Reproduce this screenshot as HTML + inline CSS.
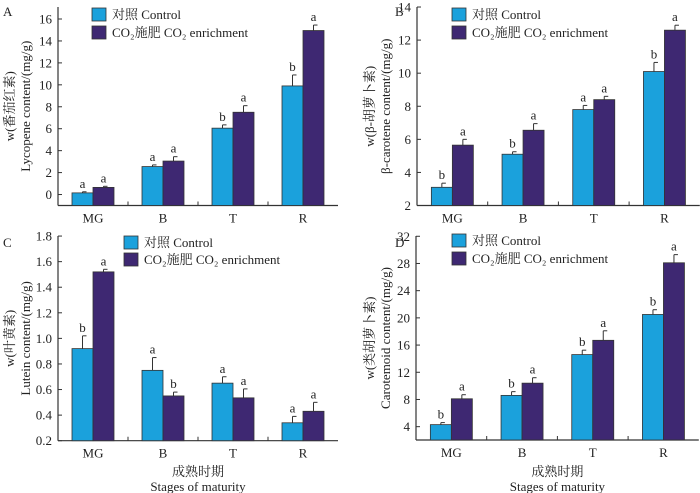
<!DOCTYPE html>
<html><head><meta charset="utf-8">
<style>
body{margin:0;background:#fff;}
svg{display:block;font-family:"Liberation Serif","Noto Serif CJK SC",serif;}
</style></head>
<body>
<svg id="chart" width="700" height="493" viewBox="0 0 700 493" xmlns="http://www.w3.org/2000/svg"></svg>
<script>
const categories = ["MG","B","T","R"];
const aControl = [0.15,2.55,6.05,9.9];
const aControlErr = [0.1,0.15,0.3,1.0];
const aCO2 = [0.65,3.05,7.5,14.95];
const aCO2Err = [0.1,0.4,0.6,0.5];
const aLetters = [["a","a"],["a","a"],["b","a"],["b","a"]];
const aTicks = [0,2,4,6,8,10,12,14,16];

const bControl = [3.1,5.1,7.8,10.1];
const bControlErr = [0.25,0.15,0.25,0.55];
const bCO2 = [5.65,6.55,8.4,12.6];
const bCO2Err = [0.35,0.4,0.2,0.3];
const bLetters = [["b","a"],["b","a"],["a","a"],["b","a"]];
const bTicks = [2,4,6,8,10,12,14];

const cControl = [0.92,0.75,0.65,0.34];
const cControlErr = [0.1,0.1,0.05,0.05];
const cCO2 = [1.52,0.55,0.535,0.43];
const cCO2Err = [0.02,0.03,0.07,0.07];
const cLetters = [["b","a"],["a","b"],["a","a"],["a","a"]];
const cTicks = ["0.2","0.4","0.6","0.8","1.0","1.2","1.4","1.6","1.8"];

const dControl = [4.3,8.6,14.6,20.5];
const dControlErr = [0.3,0.55,0.65,0.7];
const dCO2 = [8.1,10.4,16.7,28.1];
const dCO2Err = [0.6,0.8,1.4,1.2];
const dLetters = [["b","a"],["b","a"],["b","a"],["b","a"]];
const dTicks = [4,8,12,16,20,24,28,32];

const NS="http://www.w3.org/2000/svg";
const svg=document.getElementById('chart');
const C1="#1ba1dc", C2="#3e2872";
function mk(tag,attrs,parent){const e=document.createElementNS(NS,tag);for(const k in attrs)e.setAttribute(k,attrs[k]);(parent||svg).appendChild(e);return e;}
function txt(s,x,y,size,anchor,parent,extra){const t=mk('text',Object.assign({x:x,y:y,'font-size':size,'text-anchor':anchor||'middle',fill:'#222'},extra||{}),parent);t.textContent=s;return t;}

function panel(p){
  const g=mk('g',{});
  
  
  const y=v=>p.y0-(v-p.vmin)*p.scale;
  const xr=p.left+p.catW*4;
  const ax=mk('line',{x1:p.left,y1:p.yTop,x2:p.left,y2:p.y0,stroke:'#333','stroke-width':1.2},g);
  
  
  const xa=mk('line',{x1:p.left,y1:p.y0,x2:xr,y2:p.y0,stroke:'#333','stroke-width':1.2},g);
  
  
  p.ticks.forEach(t=>{
    const v=parseFloat(t), yy=y(v);
    mk('line',{x1:p.left,y1:yy,x2:p.left+4,y2:yy,stroke:'#333'},g);
    const l=txt(String(t),p.left-6,yy+4.5,13,'end',g);
    
    
  });
  for(let i=1;i<4;i++){mk('line',{x1:p.left+p.catW*i,y1:p.y0,x2:p.left+p.catW*i,y2:p.y0-4,stroke:'#333'},g);}
  categories.forEach((c,i)=>{
    const cx=p.left+p.catW*(i+0.5);
    const l=txt(c,cx,p.y0+17,13,'middle',g);
    
    
    [[p.ctl,p.ctlE,C1],[p.co2,p.co2E,C2]].forEach((s,k)=>{
      const bx=cx+(k===0?-21:0), v=s[0][i], e=s[1][i];
      const r=mk('rect',{x:bx,y:y(v),width:21,height:p.y0-y(v),fill:s[2],stroke:'#333','stroke-width':0.8},g);
      
      
      const ex=bx+10.5;
      mk('line',{x1:ex,y1:y(v),x2:ex,y2:y(v+e),stroke:'#333','stroke-width':1},g);
      mk('line',{x1:ex,y1:y(v+e),x2:ex+4,y2:y(v+e),stroke:'#333','stroke-width':1},g);
      const lt=txt(p.letters[i][k],ex,y(v+e)-4,13,'middle',g);
      
      
    });
  });
  [[C1,'对照 Control'],[C2,'CO₂施肥 CO₂ enrichment']].forEach((L,k)=>{
    const ly=p.legY+k*p.legGap;
    const r=mk('rect',{x:p.legX,y:ly-11,width:14,height:13,fill:L[0],stroke:'#333','stroke-width':0.8},g);
    
    
    const t=txt(L[1],p.legX+20,ly,13,'start',g);
    
    
  });
  const pl=txt(p.id,p.labX,p.labY,13,'start',g);
  
  
  const my=(p.yTop+p.y0)/2;
  const t1=txt(p.yl1,p.yl1x,my,13,'middle',g,{transform:`rotate(-90 ${p.yl1x} ${my})`});
  
  
  const t2=txt(p.yl2,p.yl2x,my,13,'middle',g,{transform:`rotate(-90 ${p.yl2x} ${my})`});
  
  
  if(p.xlab){
    const cx=p.left+p.catW*2;
    const a=txt('成熟时期',cx,476,13,'middle',g);
    
    
    const b=txt('Stages of maturity',cx,491,13,'middle',g);
    
    
  }
}
panel({id:'A',left:58,catW:70,y0:205.5,vmin:-1,scale:10.97,yTop:7,ticks:aTicks,ctl:aControl,ctlE:aControlErr,co2:aCO2,co2E:aCO2Err,letters:aLetters,legX:92,legY:19,legGap:18,labX:3,labY:16,yl1:'w(番茄红素)',yl1x:14,yl2:'Lycopene content/(mg/g)',yl2x:30});
panel({id:'B',left:417,catW:70.7,y0:205.5,vmin:2,scale:16.54,yTop:7,ticks:bTicks,ctl:bControl,ctlE:bControlErr,co2:bCO2,co2E:bCO2Err,letters:bLetters,legX:452,legY:19,legGap:18,labX:395,labY:16,yl1:'w(β-胡萝卜素)',yl1x:374,yl2:'β-carotene content/(mg/g)',yl2x:390});
panel({id:'C',left:58,catW:70,y0:440.7,vmin:0.2,scale:127.9,yTop:236,ticks:cTicks,ctl:cControl,ctlE:cControlErr,co2:cCO2,co2E:cCO2Err,letters:cLetters,legX:124,legY:247,legGap:17,labX:3,labY:247,yl1:'w(叶黄素)',yl1x:14,yl2:'Lutein content/(mg/g)',yl2x:30,xlab:true});
panel({id:'D',left:416,catW:70.7,y0:440,vmin:2.04,scale:6.8,yTop:236,ticks:dTicks,ctl:dControl,ctlE:dControlErr,co2:dCO2,co2E:dCO2Err,letters:dLetters,legX:452,legY:245,legGap:18,labX:395,labY:247,yl1:'w(类胡萝卜素)',yl1x:374,yl2:'Carotemoid content/(mg/g)',yl2x:390,xlab:true});
</script>
</body></html>
